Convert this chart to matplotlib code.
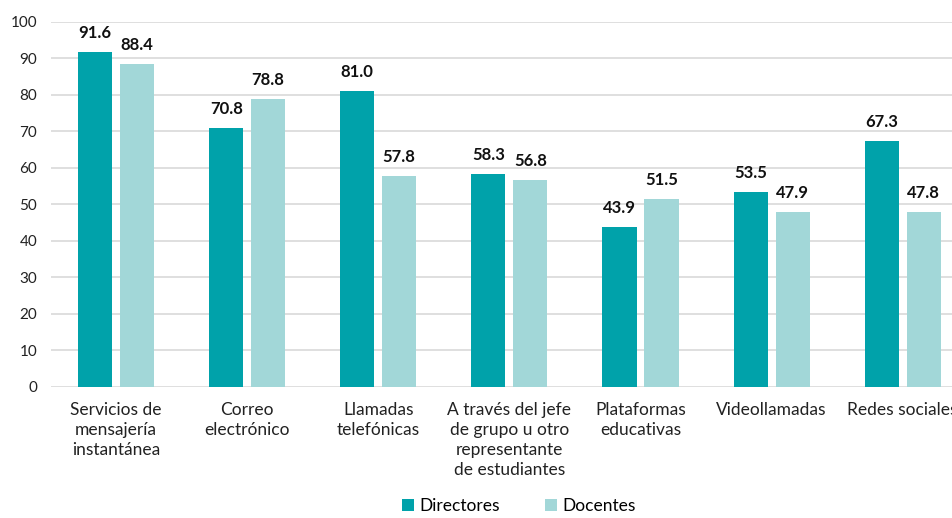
import matplotlib.pyplot as plt
import numpy as np

categories = ['Servicios de\nmensajería\ninstantánea', 'Correo\nelectrónico',
              'Llamadas\ntelefónicas', 'A través del jefe\nde grupo u otro\nrepresentante\nde estudiantes',
              'Plataformas\neducativas', 'Videollamadas', 'Redes sociales']
directores = [91.6, 70.8, 81.0, 58.3, 43.9, 53.5, 67.3]
docentes = [88.4, 78.8, 57.8, 56.8, 51.5, 47.9, 47.8]
yticks = [0, 10, 20, 30, 40, 50, 60, 70, 80, 90, 100]

plt.rcParams['font.family'] = ['Lato', 'DejaVu Sans']

fig = plt.figure(figsize=(9.53, 5.18), dpi=100)
# axes runs slightly past the right edge, like the original (last label is cut)
ax = fig.add_axes([0.053, 0.253, 0.963, 0.705])

x = np.arange(len(categories))
w = 0.26
off = 0.16
c_dir = '#00A2AA'
c_doc = '#A2D7D8'

b1 = ax.bar(x - off, directores, w, color=c_dir, label='Directores', zorder=3)
b2 = ax.bar(x + off, docentes, w, color=c_doc, label='Docentes', zorder=3)

for bars, vals in ((b1, directores), (b2, docentes)):
    for rect, v in zip(bars, vals):
        ax.text(rect.get_x() + rect.get_width() / 2, v + 3.0, f'{v:.1f}',
                ha='center', va='bottom', fontsize=12, fontweight='bold', color='#111111')

ax.set_xlim(-0.5, len(categories) - 0.5)
ax.set_ylim(0, 100)
ax.set_yticks(yticks)
ax.tick_params(axis='y', length=0, labelsize=11, pad=9.5, colors='#222222')
ax.tick_params(axis='x', length=0, labelsize=12.5, pad=11, colors='#222222')
ax.set_xticks(x)
ax.set_xticklabels(categories, linespacing=1.3)
ax.grid(axis='y', color='#D9D9D9', linewidth=1.2, zorder=0)
for s in ax.spines.values():
    s.set_visible(False)

fig.legend(handles=[b1, b2], loc='lower center', bbox_to_anchor=(0.544, -0.022), ncol=2,
           frameon=False, fontsize=12.5, handlelength=0.7, handleheight=0.7,
           handletextpad=0.3, columnspacing=2.6)

fig.savefig('out.png', dpi=100)
